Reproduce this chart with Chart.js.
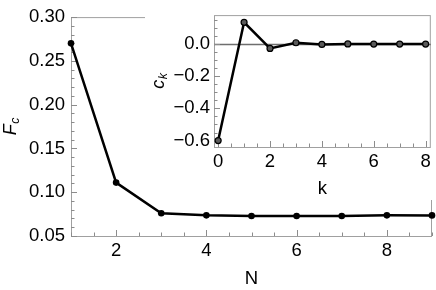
<!DOCTYPE html>
<html>
<head>
<meta charset="utf-8">
<script src="https://cdn.jsdelivr.net/npm/chart.js@4.4.1/dist/chart.umd.min.js"></script>
<style>
  html, body { margin: 0; padding: 0; background: #fff; }
  #wrap { position: relative; width: 436px; height: 290px; }
  #main { position: absolute; left: 0; top: 0; }
  #inset { position: absolute; left: 145px; top: 0; }
</style>
</head>
<body>
<div id="wrap">
  <canvas id="main" width="436" height="290"></canvas>
  <canvas id="inset" width="291" height="200"></canvas>
</div>
<script>
// main plot: F_c against N
const nValues = [1, 2, 3, 4, 5, 6, 7, 8, 9];
const fcValues = [0.270, 0.111, 0.076, 0.0736, 0.0729, 0.0729, 0.0729, 0.0736, 0.0735];
const mainXTicks = [2, 4, 6, 8];
const mainYTicks = [0.05, 0.10, 0.15, 0.20, 0.25, 0.30];

// inset: c_k against k
const kValues = [0, 1, 2, 3, 4, 5, 6, 7, 8];
const ckValues = [-0.600, 0.135, -0.027, 0.008, -0.002, 0.001, 0.0, 0.0, 0.0];
const insetXTicks = [0, 2, 4, 6, 8];
const insetYTicks = [-0.6, -0.4, -0.2, 0.0];

const FONT = '"Liberation Sans", Arial, sans-serif';
const tickFont = { family: FONT, size: 18.5 };

function fmt(v, d) {
    return v.toFixed(d).replace('-', '\u2212');
}

function drawSubLabel(ctx, x, y, main, sub, rotate) {
    ctx.save();
    ctx.translate(x, y);
    if (rotate) ctx.rotate(-Math.PI / 2);
    ctx.fillStyle = '#000';
    ctx.textBaseline = 'alphabetic';
    ctx.textAlign = 'left';
    ctx.font = 'italic 18px ' + FONT;
    const w1 = ctx.measureText(main).width;
    ctx.font = 'italic 12.5px ' + FONT;
    const w2 = ctx.measureText(sub).width;
    const x0 = -(w1 + w2) / 2;
    ctx.font = 'italic 18px ' + FONT;
    ctx.fillText(main, x0, 6);
    ctx.font = 'italic 12.5px ' + FONT;
    ctx.fillText(sub, x0 + w1 + 0.5, 9);
    ctx.restore();
}

// white background, gray frame, inward ticks, zero line, axis titles
const framePlugin = {
    id: 'frame',
    beforeDraw(chart) {
        const ctx = chart.ctx;
        ctx.save();
        ctx.fillStyle = '#fff';
        ctx.fillRect(0, 0, chart.width, chart.height);
        ctx.restore();
    },
    beforeDatasetsDraw(chart, args, opts) {
        const { ctx, chartArea: a, scales } = chart;
        ctx.save();
        ctx.strokeStyle = '#a0a0a0';
        ctx.lineWidth = 1;
        ctx.strokeRect(a.left + 0.5, a.top + 0.5, a.right - a.left - 1, a.bottom - a.top);

        if (opts.zeroLine) {
            const y0 = Math.round(scales.y.getPixelForValue(0)) + 0.5;
            ctx.strokeStyle = '#6e6e6e';
            ctx.lineWidth = 1.5;
            ctx.beginPath();
            ctx.moveTo(a.left, y0);
            ctx.lineTo(a.right, y0);
            ctx.stroke();
        }

        ctx.strokeStyle = '#8c8c8c';
        ctx.lineWidth = 1;
        ctx.beginPath();
        // x axis ticks
        const xs = scales.x;
        for (let v = Math.ceil(xs.min / opts.xMinor) * opts.xMinor; v <= xs.max + 1e-9; v += opts.xMinor) {
            const isMajor = xs.ticks.some(t => Math.abs(t.value - v) < 1e-9);
            const px = Math.round(xs.getPixelForValue(v)) + 0.5;
            ctx.moveTo(px, a.bottom);
            ctx.lineTo(px, a.bottom - (isMajor ? 6 : 3.5));
        }
        // y axis ticks
        const ys = scales.y;
        for (let v = Math.ceil(ys.min / opts.yMinor - 1e-9) * opts.yMinor; v <= ys.max + 1e-9; v += opts.yMinor) {
            const isMajor = ys.ticks.some(t => Math.abs(t.value - v) < 1e-9);
            const py = Math.round(ys.getPixelForValue(v)) + 0.5;
            ctx.moveTo(a.left, py);
            ctx.lineTo(a.left + (isMajor ? 6 : 3.5), py);
        }
        ctx.stroke();
        ctx.restore();
    },
    afterDraw(chart, args, opts) {
        const { ctx, chartArea: a } = chart;
        ctx.save();
        ctx.fillStyle = '#000';
        ctx.font = '18.5px ' + FONT;
        ctx.textAlign = 'center';
        ctx.textBaseline = 'middle';
        ctx.fillText(opts.xTitle, (a.left + a.right) / 2, opts.xTitleY);
        ctx.restore();
        drawSubLabel(ctx, opts.yTitleX, (a.top + a.bottom) / 2, opts.yTitle, opts.yTitleSub, true);
    }
};

function fixedTicks(values) {
    return scale => { scale.ticks = values.map(v => ({ value: v })); };
}

new Chart(document.getElementById('main'), {
    type: 'line',
    data: {
        datasets: [{
            data: nValues.map((n, i) => ({ x: n, y: fcValues[i] })),
            borderColor: '#000',
            borderWidth: 2.5,
            pointRadius: 3.3,
            pointBackgroundColor: '#000',
            pointBorderWidth: 0,
            tension: 0,
            clip: false
        }]
    },
    options: {
        responsive: false,
        animation: false,
        layout: { padding: { top: 10, right: 1, left: 0, bottom: 0 } },
        plugins: {
            legend: { display: false },
            tooltip: { enabled: false },
            frame: { xMinor: 0.5, yMinor: 0.01, xTitle: 'N', xTitleY: 279, yTitle: 'F', yTitleSub: 'c', yTitleX: 10 }
        },
        scales: {
            x: {
                type: 'linear', min: 1, max: 9,
                afterBuildTicks: fixedTicks(mainXTicks),
                afterFit: s => { s.height = 54; },
                grid: { display: false, drawTicks: false },
                border: { display: false },
                ticks: { padding: 4, color: '#000', font: tickFont, maxRotation: 0, autoSkip: false, callback: v => String(v) }
            },
            y: {
                type: 'linear', min: 0.05, max: 0.30,
                afterBuildTicks: fixedTicks(mainYTicks),
                afterFit: s => { s.width = 71; },
                grid: { display: false, drawTicks: false },
                border: { display: false },
                ticks: { padding: 6, color: '#000', font: tickFont, autoSkip: false, callback: v => fmt(v, 2) }
            }
        }
    },
    plugins: [framePlugin]
});

new Chart(document.getElementById('inset'), {
    type: 'line',
    data: {
        datasets: [{
            data: kValues.map((k, i) => ({ x: k, y: ckValues[i] })),
            borderColor: '#000',
            borderWidth: 2.5,
            pointRadius: 3,
            pointBackgroundColor: '#5a5a5a',
            pointBorderColor: '#000',
            pointBorderWidth: 1.2,
            tension: 0,
            clip: false
        }]
    },
    options: {
        responsive: false,
        animation: false,
        layout: { padding: { top: 10, right: 1, left: 0, bottom: 0 } },
        plugins: {
            legend: { display: false },
            tooltip: { enabled: false },
            frame: { xMinor: 0.5, yMinor: 0.05, zeroLine: true, xTitle: 'k', xTitleY: 189, yTitle: 'c', yTitleSub: 'k', yTitleX: 13 }
        },
        scales: {
            x: {
                type: 'linear', min: -0.16, max: 8.2,
                afterBuildTicks: fixedTicks(insetXTicks),
                afterFit: s => { s.height = 53; },
                grid: { display: false, drawTicks: false },
                border: { display: false },
                ticks: { padding: 4, color: '#000', font: tickFont, maxRotation: 0, autoSkip: false, callback: v => String(v) }
            },
            y: {
                type: 'linear', min: -0.64, max: 0.18,
                afterBuildTicks: fixedTicks(insetYTicks),
                afterFit: s => { s.width = 69; },
                grid: { display: false, drawTicks: false },
                border: { display: false },
                ticks: { padding: 4, color: '#000', font: tickFont, autoSkip: false, callback: v => fmt(v, 1) }
            }
        }
    },
    plugins: [framePlugin]
});
</script>
</body>
</html>
